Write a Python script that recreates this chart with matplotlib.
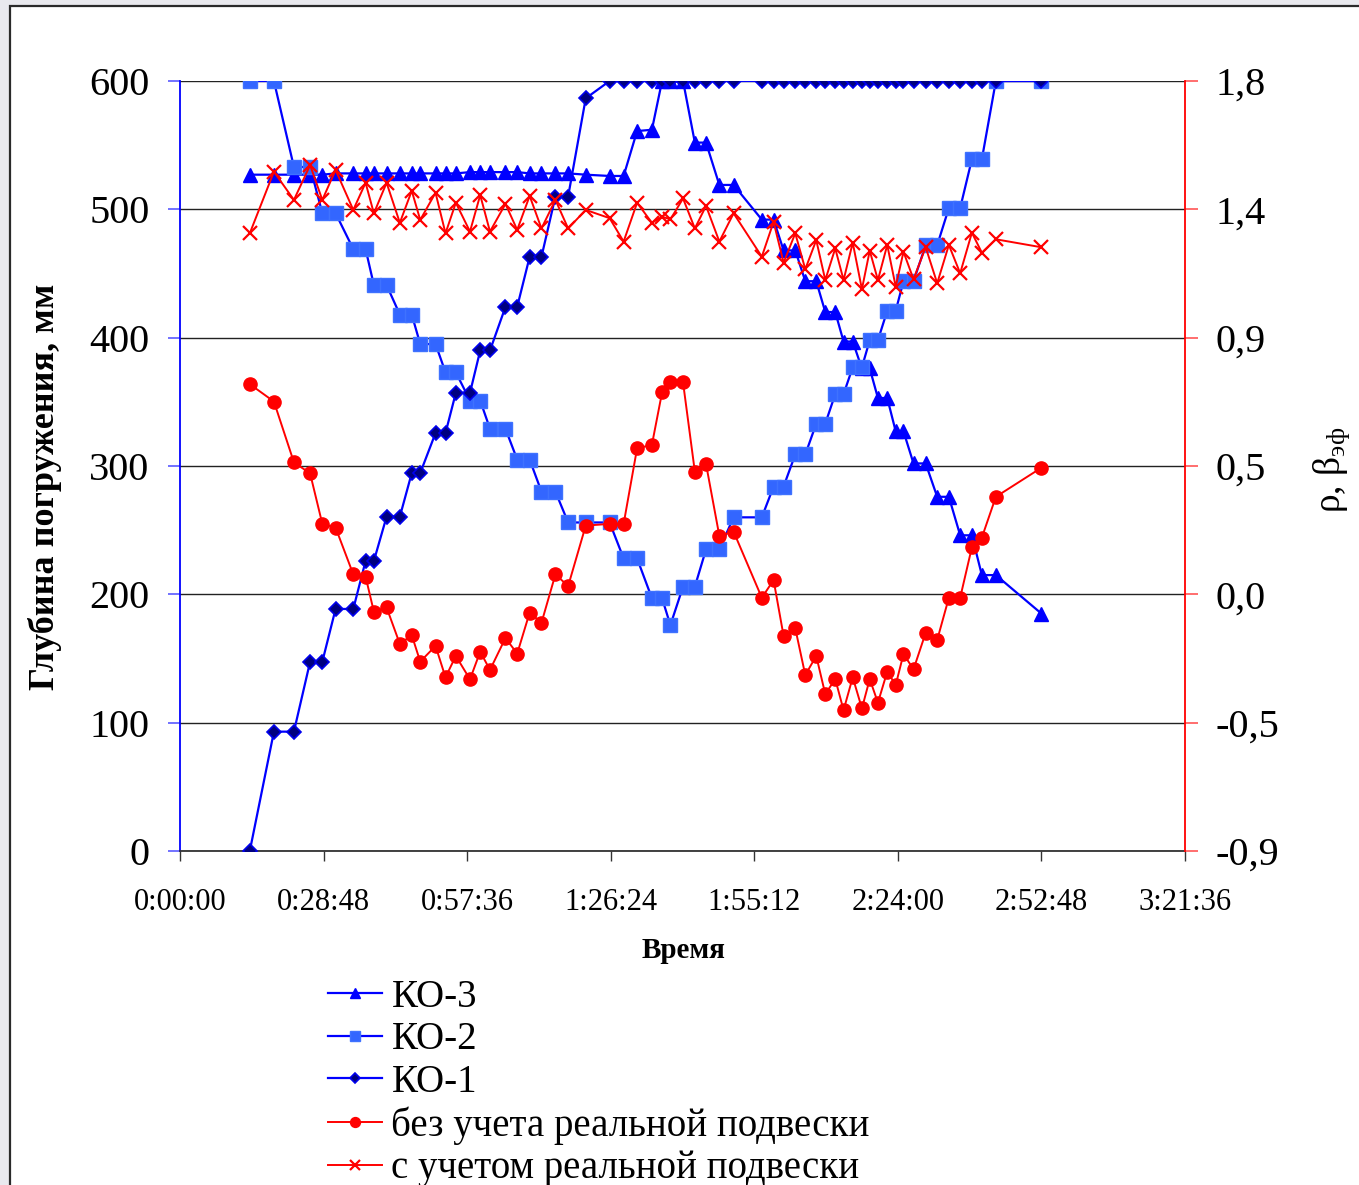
import matplotlib
matplotlib.use("Agg")
import matplotlib.pyplot as plt
from matplotlib.patches import Rectangle

plt.rcParams['font.family'] = ['Liberation Serif', 'DejaVu Serif']
plt.rcParams['mathtext.fontset'] = 'custom'
plt.rcParams['mathtext.rm'] = 'Liberation Serif'
plt.rcParams['mathtext.it'] = 'Liberation Serif:italic'

# ---- data (time in minutes) ----
time_min = [14.0, 18.84, 22.85, 26.10, 28.55, 31.21, 34.76, 37.23, 38.89, 41.44,
            44.10, 46.49, 48.19, 51.26, 53.26, 55.33, 58.17, 60.22, 62.18, 65.29,
            67.64, 70.14, 72.51, 75.31, 77.86, 81.39, 86.18, 88.99, 91.69, 94.66,
            96.70, 98.37, 100.91, 103.28, 105.52, 108.19, 111.05, 116.71, 119.07, 121.08,
            123.42, 125.43, 127.63, 129.44, 131.44, 133.11, 134.95, 136.79, 138.36, 140.00,
            141.87, 143.57, 145.13, 147.14, 149.58, 151.89, 154.23, 156.50, 158.85, 160.85,
            163.66, 172.8]

ko3 = [527, 527, 527, 527, 527, 528, 528, 528, 528, 528,
       528, 528, 528, 528, 528, 528, 529, 529, 529, 529,
       529, 528, 528, 528, 528, 527, 526, 526, 561, 562,
       600, 600, 600, 552, 552, 519, 519, 492, 492, 468,
       468, 444, 444, 420, 420, 397, 397, 376, 376, 353,
       353, 327, 327, 302, 302, 276, 276, 246, 246, 215,
       215, 185]

ko2 = [600, 600, 533, 533, 497, 497, 469, 469, 441, 441,
       418, 418, 395, 395, 373, 373, 351, 351, 329, 329,
       305, 305, 280, 280, 256, 256, 256, 228, 228, 197,
       197, 176, 206, 206, 235, 235, 260, 260, 284, 284,
       309, 309, 333, 333, 356, 356, 377, 377, 398, 398,
       421, 421, 444, 444, 472, 472, 501, 501, 539, 539,
       600, 600]

ko1 = [0, 93, 93, 147.5, 147.5, 188.6, 188.6, 226, 226, 260.5,
       260.5, 294.5, 294.5, 325.7, 325.7, 357, 357, 390, 390, 424,
       424, 463, 463, 510, 510, 586.5, 600, 600, 600, 600,
       600, 600, 600, 600, 600, 600, 600, 600, 600, 600,
       600, 600, 600, 600, 600, 600, 600, 600, 600, 600,
       600, 600, 600, 600, 600, 600, 600, 600, 600, 600,
       600, 600]

rho_without = [0.737, 0.676, 0.463, 0.424, 0.247, 0.234, 0.070, 0.062, -0.061, -0.046,
               -0.174, -0.143, -0.236, -0.181, -0.291, -0.216, -0.298, -0.201, -0.265, -0.153,
               -0.208, -0.064, -0.100, 0.070, 0.029, 0.241, 0.247, 0.247, 0.512, 0.524,
               0.708, 0.743, 0.743, 0.430, 0.457, 0.205, 0.220, -0.012, 0.050, -0.146,
               -0.119, -0.283, -0.216, -0.350, -0.297, -0.406, -0.291, -0.400, -0.297, -0.380,
               -0.271, -0.318, -0.209, -0.263, -0.135, -0.160, -0.012, -0.012, 0.165, 0.199,
               0.342, 0.444]

beta_with = [1.266, 1.482, 1.383, 1.505, 1.383, 1.488, 1.348, 1.443, 1.336, 1.443,
             1.303, 1.415, 1.313, 1.408, 1.266, 1.373, 1.272, 1.400, 1.272, 1.369,
             1.278, 1.397, 1.283, 1.383, 1.283, 1.348, 1.319, 1.237, 1.373, 1.303,
             1.324, 1.315, 1.388, 1.283, 1.362, 1.237, 1.336, 1.184, 1.306, 1.163,
             1.266, 1.140, 1.242, 1.102, 1.213, 1.102, 1.233, 1.070, 1.205, 1.102,
             1.225, 1.079, 1.201, 1.105, 1.217, 1.091, 1.225, 1.126, 1.268, 1.198,
             1.245, 1.217]

x_ticks = [0, 28.8, 57.6, 86.4, 115.2, 144.0, 172.8, 201.6]
x_tick_labels = ["0:00:00", "0:28:48", "0:57:36", "1:26:24", "1:55:12", "2:24:00", "2:52:48", "3:21:36"]
y_ticks = [0, 100, 200, 300, 400, 500, 600]
y_tick_labels = ["0", "100", "200", "300", "400", "500", "600"]
y2_ticks = [-0.9, -0.45, 0.0, 0.45, 0.9, 1.35, 1.8]
y2_tick_labels = ["-0,9", "-0,5", "0,0", "0,5", "0,9", "1,4", "1,8"]

labels = ["КО-3", "КО-2", "КО-1", "без учета реальной подвески", "с учетом реальной подвески"]

W, H = 1359, 1185
fig = plt.figure(figsize=(W / 100, H / 100), dpi=100)
fig.patch.set_facecolor('#E9E9EE')
fig.patches.append(Rectangle((9.5 / W, -0.1), 1.2, 1.1 - 5.7 / H,
                             transform=fig.transFigure, facecolor='white',
                             edgecolor='#2a2a2a', linewidth=1.6, zorder=-5))

L, R, B, T = 180, 1185, 851, 81
ax = fig.add_axes([L / W, 1 - B / H, (R - L) / W, (B - T) / H])
ax.set_facecolor('white')

blue = '#0000FF'
h1, = ax.plot(time_min, ko3, color=blue, lw=1.6, marker='^', ms=9.5,
              mfc=blue, mec=blue, zorder=3)
h2, = ax.plot(time_min, ko2, color=blue, lw=1.6, marker='s', ms=9.5,
              mfc='#3366FF', mec='#3F72FF', zorder=4)
h3, = ax.plot(time_min, ko1, color=blue, lw=1.6, marker='D', ms=6.8,
              mfc='#000080', mec='#0000EE', mew=1.2, zorder=5)

ax.set_xlim(0, 201.6)
ax.set_ylim(0, 600)
ax.set_xticks(x_ticks)
ax.set_xticklabels(x_tick_labels, fontsize=22)
ax.set_yticks(y_ticks)
ax.set_yticklabels(y_tick_labels, fontsize=29)
ax.grid(axis='y', color='#222222', lw=1.0)
ax.set_axisbelow(True)
ax.tick_params(axis='y', direction='out', length=9, width=1.2, color='#5A5AFF', pad=13)
ax.tick_params(axis='x', direction='out', length=7, width=1.0, color='#333333', pad=20)
ax.spines['left'].set_color(blue)
ax.spines['left'].set_linewidth(1.3)
ax.spines['bottom'].set_color('#333333')
ax.spines['bottom'].set_linewidth(1.3)
ax.spines['top'].set_visible(False)
ax.spines['right'].set_visible(False)

ax2 = ax.twinx()
red = '#FF0000'
h4, = ax2.plot(time_min, rho_without, color=red, lw=1.4, marker='o', ms=9.5,
               mfc=red, mec=red, zorder=3)
h5, = ax2.plot(time_min, beta_with, color=red, lw=1.4, marker='x', ms=9.5,
               mew=1.6, mec=red, zorder=4)
ax2.set_ylim(-0.9, 1.8)
ax2.set_yticks(y2_ticks)
ax2.set_yticklabels(y2_tick_labels, fontsize=29)
ax2.tick_params(axis='y', direction='out', length=9, width=1.2, color='#FF5555', pad=13)
ax2.spines['right'].set_color(red)
ax2.spines['right'].set_linewidth(1.3)
for s in ['top', 'left', 'bottom']:
    ax2.spines[s].set_visible(False)

fig.text(45 / W, 1 - 487 / H, "Глубина погружения, мм", rotation=90,
         ha='center', va='center', fontsize=26, fontweight='bold')
fig.text(1332 / W, 1 - 470 / H, r"ρ, β$_{\mathrm{эф}}$", rotation=90,
         ha='center', va='center', fontsize=27)
fig.text(683 / W, 1 - 950 / H, "Время", ha='center', va='center',
         fontsize=21, fontweight='bold')

leg = fig.legend([h1, h2, h3, h4, h5], labels, loc='upper left',
                 bbox_to_anchor=(328 / W, 1 - 979 / H), frameon=False,
                 borderpad=0, borderaxespad=0, fontsize=28,
                 handlelength=1.38, handletextpad=0.25, labelspacing=0.14,
                 markerscale=0.75)

fig.savefig("out.png", dpi=100, facecolor=fig.get_facecolor())
